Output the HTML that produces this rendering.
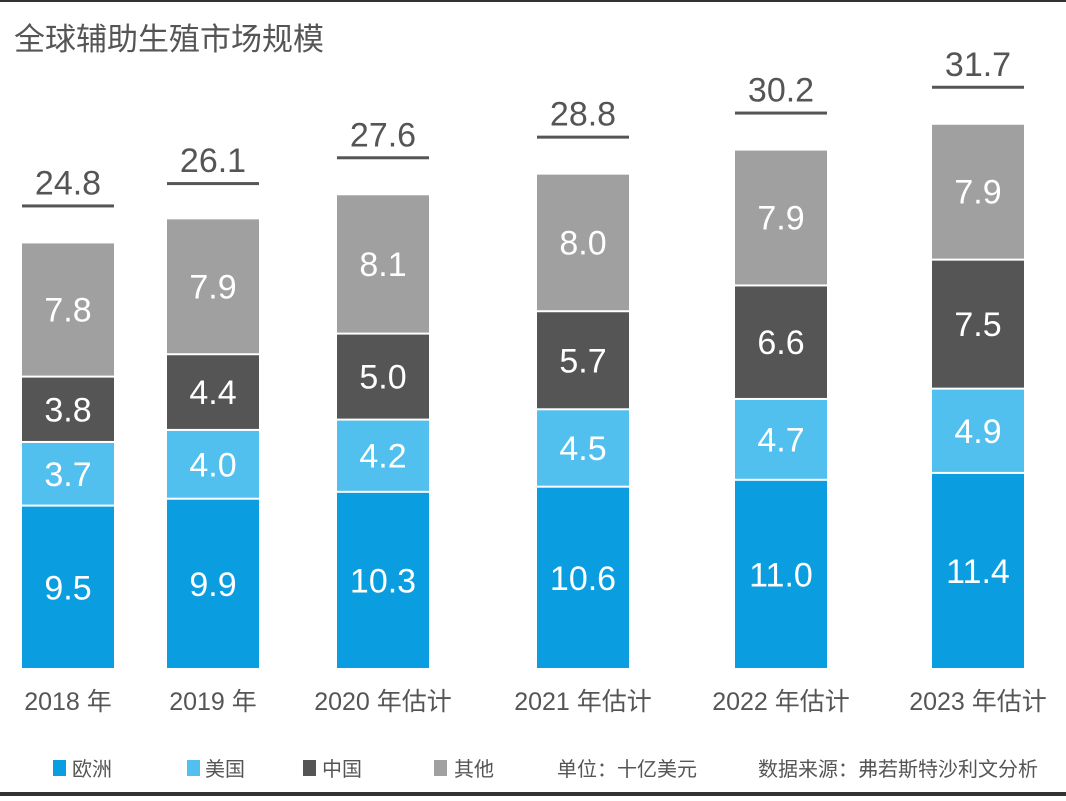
<!DOCTYPE html>
<html><head><meta charset="utf-8"><style>
html,body{margin:0;padding:0;background:#fff;}
body{width:1066px;height:796px;overflow:hidden;font-family:"Liberation Sans","Noto Sans CJK SC",sans-serif;}
</style></head><body>
<svg width="1066" height="796" viewBox="0 0 1066 796" xmlns="http://www.w3.org/2000/svg">
<rect x="0" y="0" width="1066" height="2" fill="#333"/>
<rect x="0" y="792" width="1066" height="4" fill="#333"/>
<text x="14" y="50" font-size="31" fill="#555" font-family="Liberation Sans, Noto Sans CJK SC, sans-serif">全球辅助生殖市场规模</text>
<g id="bars"></g>
<g id="legend">
<rect x="53" y="760" width="13" height="16" fill="#0a9de0"/>
<text x="72" y="776" font-size="20" fill="#555">欧洲</text>
<rect x="187" y="760" width="13" height="16" fill="#52c0ee"/>
<text x="205" y="776" font-size="20" fill="#555">美国</text>
<rect x="303" y="760" width="13" height="16" fill="#555555"/>
<text x="322" y="776" font-size="20" fill="#555">中国</text>
<rect x="434" y="760" width="13" height="16" fill="#a0a0a0"/>
<text x="454" y="776" font-size="20" fill="#555">其他</text>
<text x="557" y="776" font-size="20" fill="#555">单位：十亿美元</text>
<text x="758" y="776" font-size="20" fill="#555">数据来源：弗若斯特沙利文分析</text>
</g>
</svg>
<script>
const categories = ["2018 年","2019 年","2020 年估计","2021 年估计","2022 年估计","2023 年估计"];
const europe = [9.5,9.9,10.3,10.6,11.0,11.4];
const us = [3.7,4.0,4.2,4.5,4.7,4.9];
const china = [3.8,4.4,5.0,5.7,6.6,7.5];
const other = [7.8,7.9,8.1,8.0,7.9,7.9];
const totals = [24.8,26.1,27.6,28.8,30.2,31.7];

const NS = "http://www.w3.org/2000/svg";
const g = document.getElementById("bars");
const centers = [68,213,383,583,781,978];
const baseY = 669, pxPerUnit = 17.2, barW = 92;
const y = v => baseY - v * pxPerUnit;
const series = [
  {vals: europe, color: "#0a9de0", name: "europe"},
  {vals: us, color: "#52c0ee", name: "us"},
  {vals: china, color: "#555555", name: "china"},
  {vals: other, color: "#a0a0a0", name: "other"}
];
function mk(tag, attrs){const e=document.createElementNS(NS,tag);for(const k in attrs)e.setAttribute(k,attrs[k]);return e;}
categories.forEach((cat,i)=>{
  const cx = centers[i], x0 = cx - barW/2;
  let cum = 0;
  series.forEach(s=>{
    const v = s.vals[i];
    const top = y(cum+v), bot = y(cum);
    const r = mk("rect",{x:x0,y:top+1,width:barW,height:Math.max(0,bot-top-2),fill:s.color});
    
    
    g.appendChild(r);
    const t = mk("text",{x:cx,y:(top+bot)/2+12,"text-anchor":"middle","font-size":34,fill:"#fff"});
    
    
    t.textContent = v.toFixed(1);
    g.appendChild(t);
    cum += v;
  });
  const topY = y(totals[i]);
  const ln = mk("rect",{x:x0,y:topY-38,width:barW,height:3,fill:"#555"});
  
  
  g.appendChild(ln);
  const tt = mk("text",{x:cx,y:topY-48,"text-anchor":"middle","font-size":34,fill:"#555"});
  
  
  tt.textContent = totals[i].toFixed(1);
  g.appendChild(tt);
  const xl = mk("text",{x:cx,y:710,"text-anchor":"middle","font-size":25,fill:"#555"});
  
  
  xl.textContent = cat;
  g.appendChild(xl);
});
</script>
</body></html>
